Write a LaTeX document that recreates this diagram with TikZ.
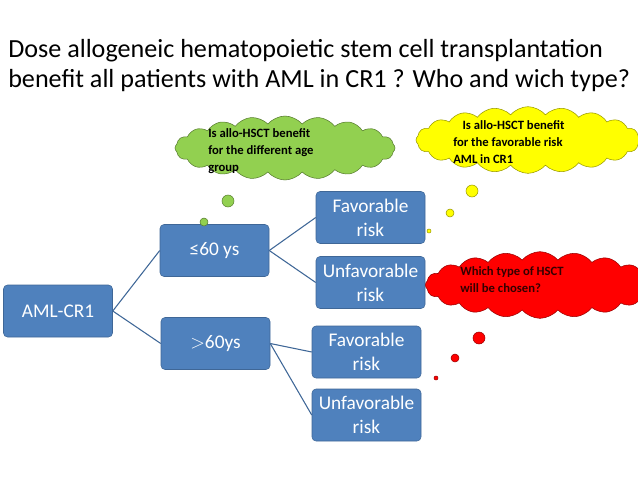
\documentclass[tikz,border=0pt]{standalone}
\usepackage{fontspec}
\setmainfont{Carlito}
\usetikzlibrary{shapes.symbols}
\definecolor{bx}{HTML}{4F81BD}
\definecolor{gr}{HTML}{92D050}
\definecolor{ye}{HTML}{FFFF00}
\definecolor{rd}{HTML}{FF0000}
\tikzset{
 box/.style={draw=bx!80!black,fill=bx,rounded corners=3pt,text=white,minimum width=81.75pt,minimum height=39pt,align=center,font=\fontsize{14.5}{18}\selectfont,inner sep=1pt},
 conn/.style={draw=bx!80!black,line width=0.8pt},
 cl/.style={draw=#1!60!black,fill=#1,cloud,cloud puffs=20,cloud puff arc=100,aspect=3.5,inner sep=0pt},
 ctext/.style={font=\bfseries\fontsize{9.5}{13}\selectfont,align=left,anchor=north west,inner sep=0pt},
 bub/.style={draw=#1!60!black,fill=#1,circle,inner sep=0pt},
}
\begin{document}
\begin{tikzpicture}[x=0.75pt,y=-0.75pt]
\path[use as bounding box] (0,0) rectangle (638,479);
\begin{scope}
\clip (0,0) rectangle (638,479);
\node[font=\fontsize{19.6}{24}\selectfont,anchor=west,inner sep=0pt] (t1) at (8,51) {Dose allogeneic hematopoietic stem cell transplantation};
\node[font=\fontsize{19.6}{24}\selectfont,anchor=west,inner sep=0pt] (t2) at (8,81) {benefit all patients with AML in CR1 ? Who and wich type?};

\node[box] (aml) at (58,311) {AML-CR1};
\node[box] (a) at (214.5,250.5) {≤60 ys};
\node[box] (b) at (215.5,343.5) {$>$60ys};
\node[box] (f1) at (370.5,217.5) {Favorable\\risk};
\node[box] (u1) at (370.5,282.5) {Unfavorable\\risk};
\node[box] (f2) at (366.5,352) {Favorable\\risk};
\node[box] (u2) at (366.5,415) {Unfavorable\\risk};
\draw[conn] (aml.east) -- (a.west);
\draw[conn] (aml.east) -- (b.west);
\draw[conn] (a.east) -- (f1.west);
\draw[conn] (a.east) -- (u1.west);
\draw[conn] (b.east) -- (f2.west);
\draw[conn] (b.east) -- (u2.west);

\node[cl=gr,minimum width=165pt,minimum height=48pt] (c1) at (285,148) {};
\node[ctext] (c1t) at (208,128) {Is allo-HSCT benefit\\for the different age\\group};
\node[bub=gr,minimum size=9pt] (g1) at (228,201) {};
\node[bub=gr,minimum size=6pt] (g2) at (204,222) {};

\node[cl=ye,minimum width=168pt,minimum height=50pt] (c2) at (528,140) {};
\node[ctext] (c2t) at (453,120) {\hspace*{7pt}Is allo-HSCT benefit\\for the favorable risk\\AML in CR1};
\node[bub=ye,minimum size=9pt] (y1) at (472,191) {};
\node[bub=ye,minimum size=6pt] (y2) at (450,213) {};
\node[bub=ye,minimum size=3pt] (y3) at (429,231) {};

\node[cl=rd,minimum width=172pt,minimum height=50pt] (c3) at (540,285) {};
\node[ctext,text=black!80!red] (c3t) at (460,266) {Which type of HSCT\\will be chosen?};
\node[bub=rd,minimum size=9pt] (r1) at (479,338) {};
\node[bub=rd,minimum size=6pt] (r2) at (455,358) {};
\node[bub=rd,minimum size=3pt] (r3) at (436,378) {};
\end{scope}
\end{tikzpicture}
\end{document}
